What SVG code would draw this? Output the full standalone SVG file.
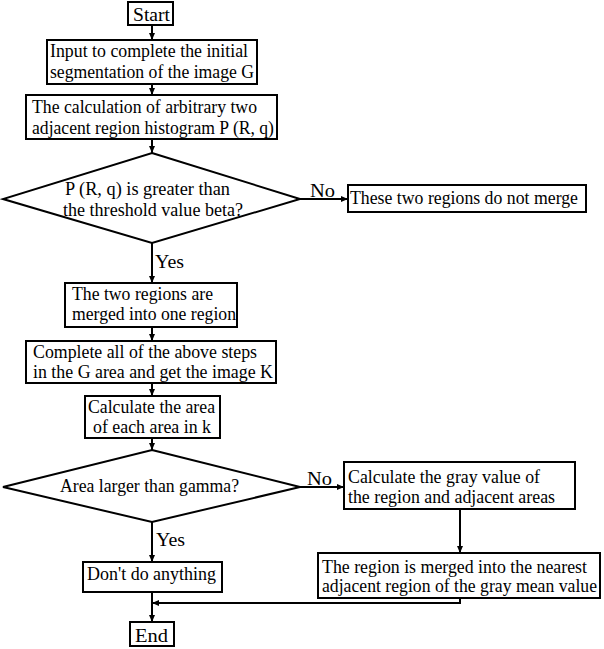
<svg xmlns="http://www.w3.org/2000/svg" width="604" height="649" viewBox="0 0 604 649">
<style>
  .box { fill: #fff; stroke: #000; stroke-width: 2; }
  .t { font-family: "Liberation Serif", "Times New Roman", serif; font-size: 18px; fill: #000; }
  .c { fill: none; stroke: #000; stroke-width: 2; }
</style>
<defs>
  <marker id="ah" markerWidth="7" markerHeight="6" refX="7" refY="3" orient="auto" markerUnits="userSpaceOnUse">
    <path d="M0,0 L7,3 L0,6 Z" fill="#000"/>
  </marker>
</defs>
<rect width="604" height="649" fill="#fff"/>

<g id="connectors">
  <line class="c" x1="152" y1="25" x2="152" y2="40" marker-end="url(#ah)"/>
  <line class="c" x1="152" y1="84" x2="152" y2="95" marker-end="url(#ah)"/>
  <line class="c" x1="152" y1="139" x2="152" y2="153" marker-end="url(#ah)"/>
  <line class="c" x1="300" y1="199" x2="348" y2="199" marker-end="url(#ah)"/>
  <line class="c" x1="152" y1="243" x2="152" y2="283" marker-end="url(#ah)"/>
  <line class="c" x1="152" y1="327" x2="152" y2="341" marker-end="url(#ah)"/>
  <line class="c" x1="152" y1="383" x2="152" y2="396" marker-end="url(#ah)"/>
  <line class="c" x1="152" y1="438" x2="152" y2="450" marker-end="url(#ah)"/>
  <line class="c" x1="300" y1="487" x2="344" y2="487" marker-end="url(#ah)"/>
  <line class="c" x1="152" y1="522" x2="152" y2="562" marker-end="url(#ah)"/>
  <line class="c" x1="460" y1="509" x2="460" y2="553" marker-end="url(#ah)"/>
  <polyline class="c" points="460,598 460,603 152,603" marker-end="url(#ah)"/>
  <line class="c" x1="152" y1="592" x2="152" y2="622" marker-end="url(#ah)"/>
  <text class="t" x="310" y="197" textLength="25" lengthAdjust="spacingAndGlyphs">No</text>
  <text class="t" x="155" y="268" textLength="29" lengthAdjust="spacingAndGlyphs">Yes</text>
  <text class="t" x="307" y="485" textLength="25" lengthAdjust="spacingAndGlyphs">No</text>
  <text class="t" x="156" y="546" textLength="29" lengthAdjust="spacingAndGlyphs">Yes</text>
</g>

<g id="start">
  <rect class="box" x="128" y="2" width="45" height="23"/>
  <text class="t" x="133" y="21" textLength="37" lengthAdjust="spacingAndGlyphs">Start</text>
</g>
<g id="input">
  <rect class="box" x="47" y="40" width="210" height="44"/>
  <text class="t" x="50" y="57" textLength="198" lengthAdjust="spacingAndGlyphs">Input to complete the initial</text>
  <text class="t" x="50" y="78" textLength="204" lengthAdjust="spacingAndGlyphs">segmentation of the image G</text>
</g>
<g id="histogram">
  <rect class="box" x="26" y="95" width="251" height="44"/>
  <text class="t" x="32" y="113" textLength="225" lengthAdjust="spacingAndGlyphs">The calculation of arbitrary two</text>
  <text class="t" x="32" y="134" textLength="242" lengthAdjust="spacingAndGlyphs">adjacent region histogram P (R, q)</text>
</g>
<g id="decision1">
  <polygon class="box" points="152,153 300,199 152,243 3,199"/>
  <text class="t" x="65" y="195" textLength="165" lengthAdjust="spacingAndGlyphs">P (R, q) is greater than</text>
  <text class="t" x="63" y="216" textLength="180" lengthAdjust="spacingAndGlyphs">the threshold value beta?</text>
</g>
<g id="nomerge">
  <rect class="box" x="348" y="185" width="238" height="27"/>
  <text class="t" x="350" y="204" textLength="228" lengthAdjust="spacingAndGlyphs">These two regions do not merge</text>
</g>
<g id="merged">
  <rect class="box" x="65" y="283" width="172" height="44"/>
  <text class="t" x="72" y="300" textLength="141" lengthAdjust="spacingAndGlyphs">The two regions are</text>
  <text class="t" x="72" y="320" textLength="164" lengthAdjust="spacingAndGlyphs">merged into one region</text>
</g>
<g id="complete">
  <rect class="box" x="26" y="341" width="250" height="42"/>
  <text class="t" x="33" y="358" textLength="224" lengthAdjust="spacingAndGlyphs">Complete all of the above steps</text>
  <text class="t" x="33" y="378" textLength="240" lengthAdjust="spacingAndGlyphs">in the G area and get the image K</text>
</g>
<g id="area">
  <rect class="box" x="85" y="396" width="135" height="42"/>
  <text class="t" x="88" y="413" textLength="127" lengthAdjust="spacingAndGlyphs">Calculate the area</text>
  <text class="t" x="93" y="433" textLength="118" lengthAdjust="spacingAndGlyphs">of each area in k</text>
</g>
<g id="decision2">
  <polygon class="box" points="152,450 300,487 152,522 3,487"/>
  <text class="t" x="60" y="492" textLength="179" lengthAdjust="spacingAndGlyphs">Area larger than gamma?</text>
</g>
<g id="gray">
  <rect class="box" x="344" y="462" width="231" height="47"/>
  <text class="t" x="348" y="483" textLength="192" lengthAdjust="spacingAndGlyphs">Calculate the gray value of</text>
  <text class="t" x="348" y="503" textLength="207" lengthAdjust="spacingAndGlyphs">the region and adjacent areas</text>
</g>
<g id="mergenearest">
  <rect class="box" x="318" y="553" width="282" height="45"/>
  <text class="t" x="322" y="573" textLength="265" lengthAdjust="spacingAndGlyphs">The region is merged into the nearest</text>
  <text class="t" x="322" y="592" textLength="275" lengthAdjust="spacingAndGlyphs">adjacent region of the gray mean value</text>
</g>
<g id="nothing">
  <rect class="box" x="83" y="562" width="139" height="30"/>
  <text class="t" x="87" y="580" textLength="129" lengthAdjust="spacingAndGlyphs">Don't do anything</text>
</g>
<g id="end">
  <rect class="box" x="130" y="622" width="44" height="24"/>
  <text class="t" x="135" y="642" textLength="33" lengthAdjust="spacingAndGlyphs">End</text>
</g>
</svg>
